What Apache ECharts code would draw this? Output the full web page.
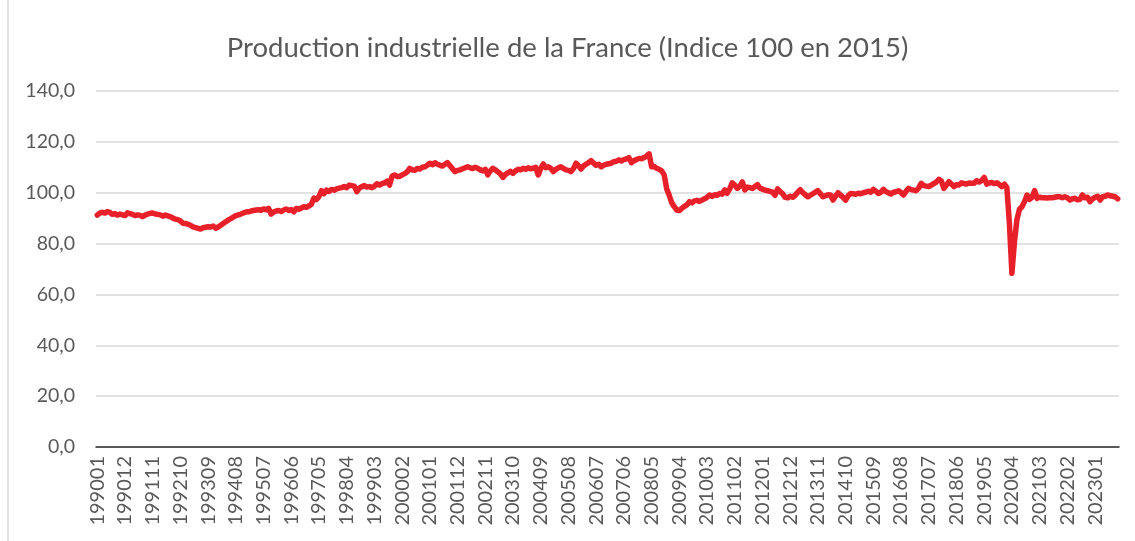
<!DOCTYPE html>
<html>
<head>
<meta charset="utf-8">
<title>Production industrielle de la France</title>
<script src="https://cdn.jsdelivr.net/npm/echarts@6/dist/echarts.min.js"></script>
<style>
    html, body { margin: 0; padding: 0; background: #fff; }
    #chartMain { width: 1135px; height: 541px; }
</style>
</head>
<body>
<div id="chartMain"></div>
<script>

// months 199001 .. 202310
var startYear = 1990;
var monthCount = 406;

var prod1990s = [
    91.2, 92.0, 92.3, 92.0, 92.6, 92.3, 91.5, 91.8, 91.2, 91.6, 91.3, 91.0,
    92.1, 91.8, 91.5, 91.0, 91.3, 91.1, 90.6, 91.2, 91.6, 91.9, 92.0, 91.6,
    91.5, 91.3, 90.8, 91.2, 90.9, 90.6, 90.0, 89.6, 89.4, 88.9, 88.0, 87.9,
    87.6, 87.2, 86.6, 86.3, 86.0, 85.7, 86.2, 86.4, 86.6, 86.5, 86.9, 86.0,
    86.5, 87.2, 87.9, 88.6, 89.3, 89.8, 90.4, 91.0, 91.3, 91.6, 92.0, 92.4,
    92.5, 92.8, 93.0, 93.2, 93.3, 93.1, 93.6, 93.3, 93.8, 91.6, 92.4, 92.8,
    93.0, 92.6, 93.2, 93.6, 93.0, 93.4, 92.5, 93.8, 93.5, 94.0, 94.5, 94.2,
    94.8, 95.5, 97.9, 97.3, 98.5, 100.8, 99.6, 101.0, 100.5, 101.3, 101.0, 101.5,
    101.8, 102.0, 102.4, 102.0, 103.0, 102.8, 102.6, 100.4, 101.8, 102.4, 102.8, 102.2,
    102.4, 102.0, 102.6, 103.5, 103.0, 103.6, 103.8, 104.5, 103.0, 106.5, 107.0, 106.4
];

var prod2000s = [
    106.4, 107.0, 107.5, 108.2, 109.6, 109.0, 108.8, 109.5, 109.3, 110.0, 110.2, 110.8,
    111.6, 111.0, 111.8, 111.2, 110.8, 110.5, 111.2, 111.8, 110.6, 109.4, 108.3, 108.8,
    109.0, 109.4, 109.8, 110.2, 109.8, 109.5, 110.0, 109.6, 109.0, 108.6, 109.2, 107.0,
    108.6, 109.6, 109.0, 108.2, 107.4, 106.0, 107.2, 107.8, 108.4, 107.6, 108.6, 109.2,
    109.0, 109.6, 109.2, 109.8, 109.4, 109.6, 110.0, 107.0, 109.5, 111.3, 109.8, 110.2,
    109.6, 108.3, 109.2, 109.8, 110.2, 109.6, 109.0, 108.8, 108.3, 109.5, 111.6, 110.6,
    109.3, 110.5, 111.2, 111.8, 112.6, 111.6, 110.8, 111.2, 110.2, 110.8, 111.2, 111.4,
    111.6, 112.2, 112.4, 112.9, 112.5, 113.0, 113.3, 113.8, 111.8, 112.6, 113.0, 113.5,
    113.4, 113.8, 114.4, 115.3, 110.2, 110.4, 109.6, 109.2, 108.6, 107.0, 101.5, 99.0,
    96.0, 94.5, 93.2, 93.0, 93.8, 94.6, 95.2, 96.5, 96.0, 96.8, 97.0, 96.6
];

var prod2010s = [
    97.1, 97.6, 98.2, 99.1, 98.6, 99.2, 99.0, 99.7, 99.4, 101.1, 99.8, 101.5,
    103.9, 103.0, 101.7, 102.6, 104.3, 101.1, 102.2, 102.0, 101.7, 102.4, 103.2, 101.8,
    101.4, 101.0, 100.8, 100.5, 100.2, 99.0, 101.5, 100.4, 99.6, 98.2, 98.0, 98.6,
    98.2, 99.0, 100.2, 101.2, 100.0, 99.2, 98.4, 99.0, 99.6, 100.2, 100.8, 99.6,
    98.4, 98.8, 99.2, 99.1, 97.1, 98.6, 100.0, 99.0, 98.2, 97.1, 98.8, 99.7,
    99.6, 99.4, 99.8, 99.6, 100.0, 100.2, 100.6, 100.2, 101.3, 100.6, 99.7, 100.2,
    101.3, 100.4, 100.0, 99.5, 100.2, 100.4, 100.8, 100.0, 99.1, 100.6, 101.7, 101.2,
    101.0, 100.8, 101.8, 103.7, 102.8, 102.6, 102.4, 103.0, 103.6, 104.2, 105.3, 104.6,
    101.7, 103.0, 104.3, 103.4, 102.4, 103.2, 103.0, 103.9, 103.6, 103.4, 103.8, 103.7,
    103.7, 104.7, 104.2, 104.8, 106.0, 103.4, 103.8, 104.0, 103.6, 103.9, 103.2, 102.4
];

var prod2020s = [
    103.4, 102.0, 88.0, 68.3, 80.5, 89.5, 93.5, 94.5, 96.5, 99.1, 97.4, 98.2,
    100.8, 97.8, 98.2, 98.0, 98.0, 97.9, 98.0, 98.0, 98.2, 98.4, 98.4, 98.0,
    98.4, 98.0, 97.1, 97.6, 97.8, 97.2, 97.4, 99.1, 98.0, 98.2, 96.5, 97.6,
    98.2, 98.6, 97.1, 98.4, 98.6, 99.1, 98.8, 98.6, 98.4, 97.6
];

var yTicks = [0, 20, 40, 60, 80, 100, 120, 140];

var months = [];
for (var i = 0; i < monthCount; i++) {
    var y = startYear + Math.floor(i / 12);
    var m = (i % 12) + 1;
    months.push(y + (m < 10 ? '0' : '') + m);
}

var production = prod1990s.concat(prod2000s, prod2010s, prod2020s);

const productionChartInit = () => {
    var chartDom = document.getElementById('chartMain');
    var myChart = echarts.init(chartDom);
    var option;

    option = {
        animation: false,
        textStyle: {
            fontFamily: 'Lato'
        },
        title: {
            text: 'Production industrielle de la France (Indice 100 en 2015)',
            left: 'center',
            top: 29,
            textStyle: {
                color: '#595959',
                fontSize: 27.5,
                fontWeight: 'normal',
                fontFamily: 'Lato'
            }
        },
        grid: {
            left: 96,
            right: 16,
            top: 91,
            bottom: 94
        },
        xAxis: {
            type: 'category',
            boundaryGap: true,
            data: months,
            axisLine: {
                lineStyle: { color: '#2b2b2b', width: 1.5 }
            },
            axisTick: { show: false },
            axisLabel: {
                rotate: 90,
                interval: 10,
                margin: 9,
                color: '#595959',
                fontSize: 20
            }
        },
        yAxis: {
            type: 'value',
            min: yTicks[0],
            max: yTicks[yTicks.length - 1],
            interval: 20,
            axisLine: { show: false },
            axisTick: { show: false },
            splitLine: {
                lineStyle: { color: '#d9d9d9', width: 1.5 }
            },
            axisLabel: {
                margin: 21,
                color: '#595959',
                fontSize: 19.5,
                formatter: function (v) {
                    return v.toFixed(1).replace('.', ',');
                }
            }
        },
        graphic: [{
            type: 'line',
            shape: { x1: 8, y1: 0, x2: 8, y2: 541 },
            style: { stroke: '#d9d9d9', lineWidth: 1.5 }
        }],
        series: [{
            name: 'Production',
            type: 'line',
            data: production,
            showSymbol: false,
            smooth: false,
            lineStyle: {
                color: '#e8202a',
                width: 5.5,
                join: 'round',
                cap: 'round'
            },
            itemStyle: { color: '#e8202a' }
        }]
    };

    option && myChart.setOption(option);
};

productionChartInit();
</script>
</body>
</html>
